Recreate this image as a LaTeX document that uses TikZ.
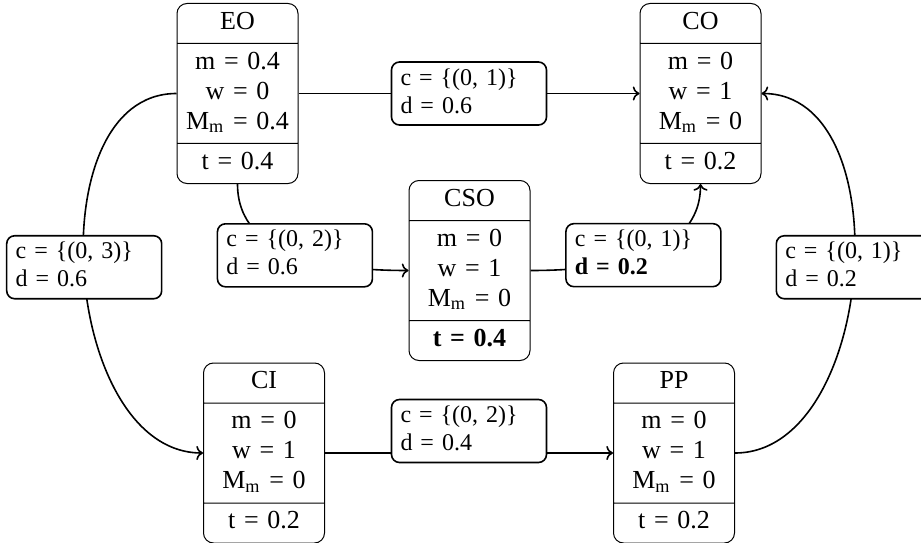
\documentclass[tikz,border=0pt]{standalone}
\usepackage{fontspec}
\setmainfont{Liberation Serif}[WordSpace=2]
\usetikzlibrary{shapes.multipart,arrows.meta}

\newcommand{\Mm}{M\textsubscript{m}}

\begin{document}
\begin{tikzpicture}[x=0.5pt,y=0.5pt,
    state/.style={rectangle split, rectangle split parts=3, draw, line width=0.5pt,
      rounded corners=5pt, text width=53pt, align=center,
      inner xsep=3.75pt, inner ysep=2.5pt,
      font=\fontsize{13}{14.5}\selectfont},
    guard/.style={draw, line width=0.8pt, rounded corners=4pt, fill=white,
      text width=68.5pt, align=left, inner xsep=4.5pt, inner ysep=1.75pt,
      font=\fontsize{12}{14}\selectfont},
    trans/.style={thick, ->}]
        % page 921 x 542 px, 1 px = 0.5pt
        \useasboundingbox (0,0) rectangle (921,542);

        % states
        \node[state] (EO) at (237.5,448.5) {\strut EO
            \nodepart{two}\strut m = 0.4\\[0.5pt]\strut w = 0\\[0.5pt]\strut \Mm{} = 0.4
            \nodepart{three}\strut t = 0.4};
        \node[state] (CO) at (700.5,448.5) {\strut CO
            \nodepart{two}\strut m = 0\\[0.5pt]\strut w = 1\\[0.5pt]\strut \Mm{} = 0
            \nodepart{three}\strut t = 0.2};
        \node[state] (CSO) at (469.5,271.5) {\strut CSO
            \nodepart{two}\strut m = 0\\[0.5pt]\strut w = 1\\[0.5pt]\strut \Mm{} = 0
            \nodepart{three}\strut\textbf{t = 0.4}};
        \node[state] (CI) at (264,89) {\strut CI
            \nodepart{two}\strut m = 0\\[0.5pt]\strut w = 1\\[0.5pt]\strut \Mm{} = 0
            \nodepart{three}\strut t = 0.2};
        \node[state] (PP) at (674,89) {\strut PP
            \nodepart{two}\strut m = 0\\[0.5pt]\strut w = 1\\[0.5pt]\strut \Mm{} = 0
            \nodepart{three}\strut t = 0.2};

        % transitions
        \draw[trans] (EO) -- coordinate[pos=0.5] (g1) (CO);
        \draw[trans] (EO.south) to[out=-90,in=180] coordinate[pos=0.5] (g2) (CSO.west);
        \draw[trans] (EO.west) to[out=180,in=180] coordinate[pos=0.5] (g3) (CI.west);
        \draw[trans] (CSO.east) to[out=0,in=-90] coordinate[pos=0.5] (g4) (CO.south);
        \draw[trans] (PP.east) to[out=0,in=0] coordinate[pos=0.5] (g5) (CO.east);
        \draw[trans] (CI) -- coordinate[pos=0.5] (g6) (PP);

        % guards
        \node[guard] (G1) at (g1) {\strut c = \{(0, 1)\}\\[0pt]\strut d = 0.6};
        \node[guard] (G2) at (g2) {\strut c = \{(0, 2)\}\\[0pt]\strut d = 0.6};
        \node[guard,yshift=3pt] (G3) at (g3) {\strut c = \{(0, 3)\}\\[0pt]\strut d = 0.6};
        \node[guard] (G4) at (g4) {\strut c = \{(0, 1)\}\\[0pt]\strut\textbf{d = 0.2}};
        \node[guard,yshift=3pt] (G5) at (g5) {\strut c = \{(0, 1)\}\\[0pt]\strut d = 0.2};
        \node[guard,yshift=11pt] (G6) at (g6) {\strut c = \{(0, 2)\}\\[0pt]\strut d = 0.4};
\end{tikzpicture}
\end{document}
